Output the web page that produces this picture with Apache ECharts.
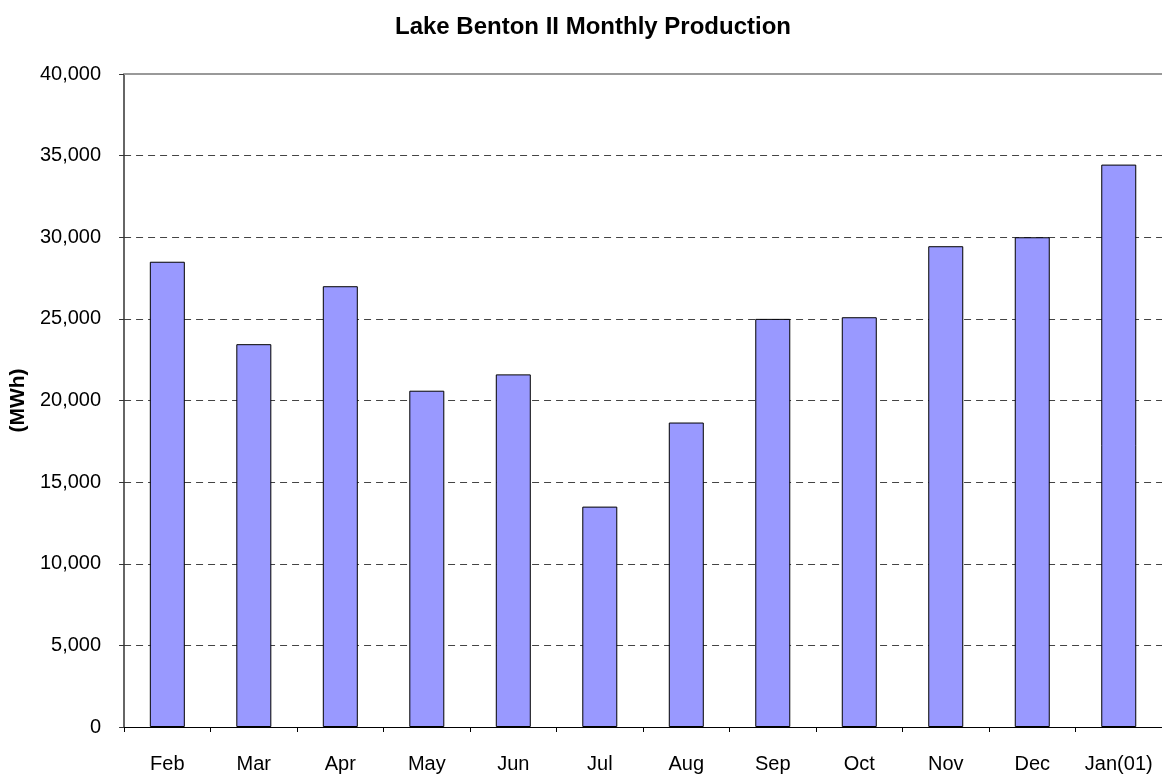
<!DOCTYPE html>
<html>
<head>
<meta charset="utf-8">
<script src="https://cdn.jsdelivr.net/npm/echarts@6/dist/echarts.min.js"></script>
<style>html,body{margin:0;padding:0;background:#fff}#c{width:1162px;height:776px}</style>
</head>
<body>
<div id="c"></div>
<script>
const categories = ['Feb','Mar','Apr','May','Jun','Jul','Aug','Sep','Oct','Nov','Dec','Jan(01)'];
const production = [28500, 23450, 27000, 20600, 21600, 13500, 18650, 25000, 25100, 29450, 30000, 34450];
const titleText = 'Lake Benton II Monthly Production';
const yAxisName = '(MWh)';

const chart = echarts.init(document.getElementById('c'), null, {renderer:'canvas'});
const font = 'Arial, "Liberation Sans", sans-serif';
chart.setOption({
  animation: false,
  backgroundColor: '#fff',
  title: {
    text: titleText, left: 588, top: 10, textAlign: 'center',
    textStyle: {fontFamily: font, fontSize: 24, fontWeight: 'bold', color: '#000'}
  },
  grid: {left: 118.5, top: 74, width: 1045, height: 653, containLabel: false},
  xAxis: [{
    type: 'category', data: categories, position: 'bottom',
    axisLine: {lineStyle: {color: '#000', width: 1}},
    axisTick: {show: true, length: 5, lineStyle: {color: '#000'}},
    axisLabel: {fontFamily: font, fontSize: 20, color: '#000', margin: 27, interval: 0},
    splitLine: {show: false}
  }, {
    type: 'category', data: categories, position: 'top',
    axisLine: {show: true, lineStyle: {color: '#999', width: 2}},
    axisTick: {show: false}, axisLabel: {show: false}, splitLine: {show: false}
  }],
  yAxis: {
    type: 'value', min: 0, max: 40000, interval: 5000,
    name: yAxisName, nameLocation: 'middle', nameGap: 90, nameRotate: 90,
    nameTextStyle: {fontFamily: font, fontSize: 21, fontWeight: 'bold', color: '#000'},
    axisLine: {show: true, lineStyle: {color: '#333', width: 1.5}},
    axisTick: {show: true, length: 5, lineStyle: {color: '#333'}},
    axisLabel: {fontFamily: font, fontSize: 20, color: '#000', margin: 23,
      padding: [4, 0, 0, 0],
      formatter: v => v.toLocaleString('en-US')},
    splitLine: {show: true, lineStyle: {color: '#444', width: 1, type: [7, 5]}}
  },
  series: [{
    type: 'bar', data: production, xAxisIndex: 0, barWidth: 35,
    itemStyle: {color: '#9999FF', borderColor: '#000', borderWidth: 1}
  }]
});
</script>
</body>
</html>
